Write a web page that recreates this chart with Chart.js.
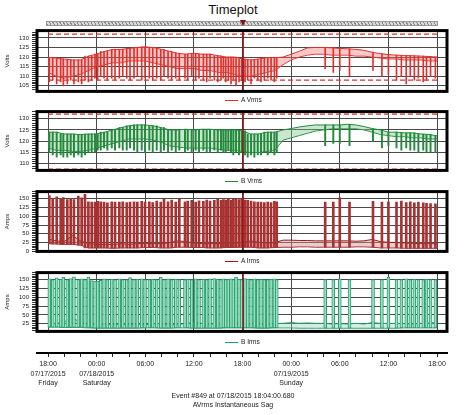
<!DOCTYPE html>
<html>
<head>
<meta charset="utf-8">
<script src="https://cdn.jsdelivr.net/npm/chart.js@4.4.1/dist/chart.umd.min.js"></script>
<style>
  body { margin: 0; background: #fff; font-family: "Liberation Sans", Arial, sans-serif; }
  #wrap { position: relative; width: 468px; height: 415px; overflow: hidden; background: #fff; }
  canvas { position: absolute; left: 0; }
  .title { position: absolute; top: 2px; left: 0; width: 466px; text-align: center; font-size: 13px; color: #111; }
  .scroll { position: absolute; left: 46px; top: 21px; width: 390px; height: 3px; border: 1px solid #999;
            background: repeating-linear-gradient(60deg, #8c8c8c 0 1px, #d8d8d8 1px 3px); }
  .marker { position: absolute; left: 240px; top: 20px; width: 0; height: 0;
            border-left: 3px solid transparent; border-right: 3px solid transparent; border-top: 6px solid #8b1010; }
  .legend { position: absolute; left: 225px; font-size: 6.5px; color: #222; line-height: 8px; white-space: nowrap; }
  .legend span { display: inline-block; width: 13px; height: 1px; vertical-align: middle; margin-right: 3px; }
  .footer { position: absolute; left: 0; width: 466px; text-align: center; font-size: 7px; color: #222; line-height: 9px; }
</style>
</head>
<body>
<div id="wrap">
  <div class="title">Timeplot</div>
  <div class="scroll"></div>
  <div class="marker"></div>

  <canvas id="p1" width="468" height="74" style="top:24px"></canvas>
  <div class="legend" style="top:96px"><span style="background:#e3302c"></span>A Vrms</div>

  <canvas id="p2" width="468" height="72" style="top:105px"></canvas>
  <div class="legend" style="top:177px"><span style="background:#238a3e"></span>B Vrms</div>

  <canvas id="p3" width="468" height="73" style="top:185px"></canvas>
  <div class="legend" style="top:257px"><span style="background:#961c1c"></span>A Irms</div>

  <canvas id="p4" width="468" height="72" style="top:266px"></canvas>
  <div class="legend" style="top:338px"><span style="background:#22a06c"></span>B Irms</div>

  <canvas id="axis" width="468" height="55" style="top:345px"></canvas>

  <div class="footer" style="top:391px">Event #849 at 07/18/2015 18:04:00.680<br>AVrms Instantaneous Sag</div>
</div>

<script>
const FONT = '"Liberation Sans", Arial, sans-serif';
const X_MIN = -1.36, X_MAX = 49.23;
const cursorHour = 24.07; // 18:04 on Saturday

const tickHours = [0, 6, 12, 18, 24, 30, 36, 42, 48];
const timeLabels = [
  ['18:00', '07/17/2015', 'Friday'],
  ['00:00', '07/18/2015', 'Saturday'],
  ['06:00'], ['12:00'], ['18:00'],
  ['00:00', '07/19/2015', 'Sunday'],
  ['06:00'], ['12:00'], ['18:00']
];

// hours after 18:00 Friday where the motor starts show up
const eventHours = [0.16,0.58,1.07,1.56,1.89,2.38,2.8,3.2,3.74,4.15,4.56,4.98,
  5.39,5.8,6.13,6.5,6.91,7.32,7.86,8.27,8.8,9.22,9.71,10.12,10.61,11.02,11.56,11.97,
  12.5,12.92,13.41,13.91,14.31,14.81,15.26,15.76,16.2,
  16.9,17.24,17.73,18.22,18.63,19.17,19.58,19.99,20.52,20.94,21.35,21.64,21.93,22.25,22.58,22.87,23.2,23.57,23.9,
  24.31,24.64,25.05,25.46,25.88,26.28,26.69,27.11,27.52,27.93,28.22,
  34.2,35.2,36.0,37.2,40.1,41.2,42.0,43.0,43.6,44.2,44.7,45.2,45.7,46.3,46.7,47.2,47.8];

// A Vrms, hourly max / min, sag depth per event
const aVmax = [119.8,119.5,119,118.5,118.5,120.5,121.5,123,124,124,124.5,125,125.3,125,124,123,122,121.5,122,121.5,
  121.5,120.7,120,120,119,118.5,119,119.7,119.7,120,121.5,123,124.8,125,125,124.8,124.5,124.3,124,123.5,
  122.5,121.8,121.3,121,120.8,120.7,120.5,120.3,120];
const aVmin = [112,110,109,110,111,113,115,116,117,117,118,118,118,117,116,115,114,114,114,113,
  113,112,112,111,110,110,111,112,113,116,118.5,120,121,121.5,121.5,121,121,121,120.5,120.5,
  120,119.5,119,119,118.5,118.5,118.5,118,118];
const aVsag = [107,108,106,107,105,106,108,106,107,106,108,107,
  108,109,108,110,109,108,109,108,109,110,109,108,109,110,108,109,
  109,108,109,108,110,109,108,109,108,
  109,108,110,108,109,108,107,109,108,107,108,109,107,108,106,108,105,107,108,
  107,108,106,109,108,107,108,109,108,107,109,
  114,112,113,110,113,110,111,108,110,106,110,108,109,107,108,110,109];
const aVlimits = [132, 108];

// B Vrms
const bVmax = [124,124,123.2,123.2,122.9,123.2,123.2,124,125,126,126.8,127.2,127.2,126.8,126,125,125,125.3,125,125.3,
  125.3,125,125,125,124.6,123.2,123.2,124,124,125,125.6,126.3,126.8,127.2,127.2,127.2,127.2,127.5,127.2,126.5,
  125.6,125,124,124,123.7,123.7,123.2,123,122.4];
const bVmin = [117,116,116,115.5,115.5,116,117,118,119,120,121,121,121,120.5,119.5,118,117.5,117,117,117,
  117,116.5,116,116,115.5,115,115,115.5,116,120.5,121.5,122.5,123.5,124.5,125,125.5,125.5,125.5,125.5,125,
  124,123,122.5,122,122,121.5,121.5,121,121];
const bVsag = [115,114,113,114,113,113,114,113,114,113,114,115,
  115,115,116,116,117,116,117,116,117,116,116,117,116,115,116,115,
  116,115,116,115,116,115,116,115,116,
  115,116,115,116,115,116,115,115,116,115,116,115,115,116,115,114,115,114,115,
  114,113,114,113,114,114,115,114,115,114,115,
  118,119,119,118,120,117,118,117,116,117,116,116,115,116,115,115,115];
const bVlimits = [132, 107.7];

// A Irms
const aImax = [35,30,28,45,30,22,20,20,20,22,20,22,23,22,22,25,30,28,24,22,
  22,22,24,24,26,30,26,24,25,32,32,31,31,30,30,30,30,30,29,30,
  34,28,26,25,24,23,22,22,22];
const aImin = [22,21,20,20,18,10,10,10,9,10,10,10,11,11,10,10,12,12,11,11,
  10,10,11,11,12,12,10,10,11,12,12,13,13,12,12,12,12,12,13,13,
  12,10,10,10,9,9,9,9,9];
const aIpeak = [159,150,155,150,153,147,150,147,157,152,162,141,
  140,140,142,141,140,138,141,140,140,141,139,140,141,140,142,140,
  141,139,143,140,148,141,146,140,150,
  141,143,145,140,144,142,146,143,145,148,145,147,146,149,145,148,150,147,149,
  146,145,143,141,140,140,139,140,139,142,141,
  140,140,152,140,142,140,141,140,143,139,141,138,140,138,137,136,135];

// B Irms
const bImax = [28,25,30,42,28,24,22,22,22,24,22,24,22,25,25,22,22,26,28,26,
  24,24,26,28,28,25,24,24,25,26,28,26,27,26,26,24,25,24,26,24,
  28,26,25,26,25,24,26,27,28];
const bImin = [15,15,14,14,14,13,12,12,12,12,12,12,13,13,12,12,13,13,12,12,
  12,12,13,13,13,13,12,12,13,13,13,12,12,12,12,12,12,12,12,12,
  12,12,12,12,13,13,13,13,13];
const bIpeak = [152,150,155,151,157,150,153,158,150,152,150,157,
  147,146,146,148,152,150,151,150,152,150,150,156,150,151,152,150,
  150,151,150,157,150,152,150,151,150,
  150,151,150,152,150,151,150,152,153,151,150,152,150,151,152,150,157,151,150,
  153,151,150,152,150,151,150,150,151,152,150,
  150,150,152,150,150,150,157,150,150,152,150,151,150,150,151,150,150];

// box round the plot area and the event cursor
const frame = {
  id: 'frame',
  afterDatasetsDraw(chart) {
    const {ctx, chartArea: a, scales} = chart;
    const cx = scales.x.getPixelForValue(cursorHour);
    ctx.save();
    ctx.strokeStyle = '#8b1010';
    ctx.lineWidth = 1.5;
    ctx.beginPath();
    ctx.moveTo(cx, a.top);
    ctx.lineTo(cx, a.bottom);
    ctx.stroke();
    ctx.lineWidth = 3;
    ctx.strokeStyle = '#000';
    ctx.strokeRect(a.left, a.top, a.right - a.left, a.bottom - a.top);
    ctx.restore();
  }
};

function makePanel(id, p) {
  const hours = p.max.map((v, i) => i);
  const line = arr => hours.map(h => ({x: h, y: arr[h]}));
  const spikes = eventHours.map((t, k) => ({x: t, y: [p.spikeFrom[Math.round(t)], p.spike[k]]}));

  let yTicks = [];
  for (let v = Math.ceil(p.yMin / p.step) * p.step; v <= p.yMax; v += p.step) yTicks.push(v);

  const datasets = (p.limits || []).map(v => ({
    type: 'line', data: [{x: 0, y: v}, {x: 48, y: v}],
    borderColor: '#e0302a', borderWidth: 1.2, borderDash: [5, 3], pointRadius: 0, fill: false, order: 0
  }));
  datasets.push(
    {type: 'bar', data: spikes, backgroundColor: p.spikeFill, borderColor: p.color, borderWidth: p.spikeBorder,
     barThickness: p.spikeWidth, borderSkipped: false, grouped: false, order: 1},
    {type: 'line', data: line(p.max), borderColor: p.color, borderWidth: 1, pointRadius: 0,
     fill: '+1', backgroundColor: p.band, order: 2},
    {type: 'line', data: line(p.min), borderColor: p.color, borderWidth: 1, pointRadius: 0, fill: false, order: 3}
  );

  new Chart(document.getElementById(id), {
    type: 'line',
    data: {datasets},
    plugins: [frame],
    options: {
      animation: false,
      responsive: false,
      devicePixelRatio: 1,
      layout: {padding: {left: 0, right: 21, top: 4, bottom: 4}},
      elements: {line: {tension: 0}},
      plugins: {legend: {display: false}, tooltip: {enabled: false}},
      scales: {
        x: {
          type: 'linear', min: X_MIN, max: X_MAX, offset: false,
          afterBuildTicks: s => { s.ticks = tickHours.map(v => ({value: v})); },
          afterFit: s => { s.height = 0; },
          ticks: {display: false},
          grid: {color: '#4a4a4a', lineWidth: 1, drawTicks: false, offset: false},
          border: {display: false}
        },
        y: {
          type: 'linear', min: p.yMin, max: p.yMax,
          afterBuildTicks: s => { s.ticks = yTicks.map(v => ({value: v})); },
          afterFit: s => { s.width = 37; },
          ticks: {autoSkip: false, padding: 3, color: '#222', font: {size: 6, family: FONT},
                  callback: v => p.majors.includes(v) ? v : ''},
          grid: {color: c => p.majors.includes(c.tick.value) ? '#4a4a4a' : 'rgba(0,0,0,0)',
                 tickColor: '#333', tickLength: 5, lineWidth: 1},
          border: {display: false},
          title: {display: true, text: p.unit, color: '#222', font: {size: 6, family: FONT}, padding: {top: 4, bottom: 0}}
        }
      }
    }
  });
}

makePanel('p1', {unit: 'Volts', yMin: 102.1, yMax: 133.8, step: 1, majors: [105, 110, 115, 120, 125, 130],
  max: aVmax, min: aVmin, spike: aVsag, spikeFrom: aVmax, limits: aVlimits,
  color: '#e3302c', band: 'rgba(240,120,120,0.4)', spikeFill: '#e3302c', spikeBorder: 0, spikeWidth: 1});

makePanel('p2', {unit: 'Volts', yMin: 107.1, yMax: 133.1, step: 1, majors: [110, 115, 120, 125, 130],
  max: bVmax, min: bVmin, spike: bVsag, spikeFrom: bVmax, limits: bVlimits,
  color: '#238a3e', band: 'rgba(120,195,130,0.4)', spikeFill: '#238a3e', spikeBorder: 0, spikeWidth: 1.3});

makePanel('p3', {unit: 'Amps', yMin: 0, yMax: 170, step: 5, majors: [0, 25, 50, 75, 100, 125, 150],
  max: aImax, min: aImin, spike: aIpeak, spikeFrom: aImin,
  color: '#961c1c', band: 'rgba(215,140,140,0.45)', spikeFill: '#a83232', spikeBorder: 0, spikeWidth: 2});

makePanel('p4', {unit: 'Amps', yMin: 3, yMax: 170, step: 5, majors: [25, 50, 75, 100, 125, 150],
  max: bImax, min: bImin, spike: bIpeak, spikeFrom: bImin,
  color: '#22a06c', band: 'rgba(130,210,175,0.35)', spikeFill: '#9fdcc0', spikeBorder: 1, spikeWidth: 3});

// shared time axis under the panels
const axisHours = Array.from({length: 25}, (v, i) => i * 2);
new Chart(document.getElementById('axis'), {
  type: 'line',
  data: {datasets: [{data: []}]},
  options: {
    animation: false,
    responsive: false,
    devicePixelRatio: 1,
    layout: {padding: {left: 37, right: 21, top: 0, bottom: 0}},
    plugins: {legend: {display: false}, tooltip: {enabled: false}},
    scales: {
      y: {display: false},
      x: {
        type: 'linear', min: X_MIN, max: X_MAX,
        afterBuildTicks: s => { s.ticks = axisHours.map(v => ({value: v})); },
        afterFit: s => { s.height = 47; },
        ticks: {autoSkip: false, maxRotation: 0, padding: 3, color: '#222',
                font: {size: 7, family: FONT, lineHeight: 1.3},
                callback: v => { const i = tickHours.indexOf(v); return i >= 0 ? timeLabels[i] : ''; }},
        grid: {drawOnChartArea: false, tickLength: 4, color: '#222'},
        border: {display: true, color: '#000', width: 2}
      }
    }
  }
});
</script>
</body>
</html>
